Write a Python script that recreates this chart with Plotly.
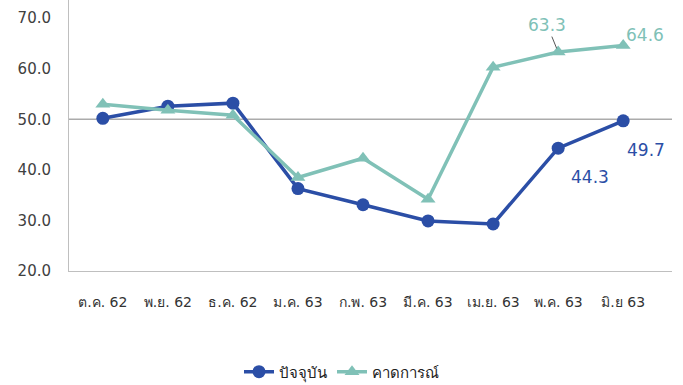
import plotly.graph_objects as go

categories = ["ต.ค. 62", "พ.ย. 62", "ธ.ค. 62", "ม.ค. 63", "ก.พ. 63", "มี.ค. 63", "เม.ย. 63", "พ.ค. 63", "มิ.ย 63"]
current = [50.2, 52.6, 53.2, 36.3, 33.1, 29.9, 29.3, 44.3, 49.7]
forecast = [53.0, 51.8, 50.8, 38.5, 42.3, 34.2, 60.3, 63.3, 64.6]
y_ticks = [20, 30, 40, 50, 60, 70]

BLUE = "#2B4EA6"
TEAL = "#80C1B7"

fig = go.Figure()
fig.add_trace(go.Scatter(x=categories, y=current, name="ปัจจุบัน", mode="lines+markers",
                         line=dict(color=BLUE, width=3.5),
                         marker=dict(symbol="circle", size=13, color=BLUE)))
fig.add_trace(go.Scatter(x=categories, y=forecast, name="คาดการณ์", mode="lines+markers",
                         line=dict(color=TEAL, width=3.5),
                         marker=dict(symbol="triangle-up", size=13, color=TEAL)))

# 50 reference line
fig.add_shape(type="line", xref="paper", yref="y", x0=0, x1=1, y0=50, y1=50,
              line=dict(color="#ABABAB", width=1.5), layer="below")

ann_font = dict(family="DejaVu Sans, Verdana, sans-serif", size=17)
# 63.3 label with a short leader line to its point
fig.add_annotation(x=categories[7], y=forecast[7], text=f"{forecast[7]:.1f}", showarrow=True,
                   arrowhead=0, arrowwidth=1, arrowcolor="#555555", standoff=4,
                   ax=-11, ay=-27, font=dict(color=TEAL, **ann_font))
fig.add_annotation(x=categories[8], y=forecast[8], text=f"{forecast[8]:.1f}", showarrow=False,
                   xshift=22, yshift=11, font=dict(color=TEAL, **ann_font))
fig.add_annotation(x=categories[7], y=current[7], text=f"{current[7]:.1f}", showarrow=False,
                   xshift=32, yshift=-29, font=dict(color=BLUE, **ann_font))
fig.add_annotation(x=categories[8], y=current[8], text=f"{current[8]:.1f}", showarrow=False,
                   xshift=23, yshift=-29, font=dict(color=BLUE, **ann_font))

fig.update_layout(
    width=683, height=385,
    margin=dict(l=69, r=11, t=0, b=114, autoexpand=False),
    paper_bgcolor="white", plot_bgcolor="white",
    font=dict(family="DejaVu Sans, Noto Sans, sans-serif", color="#404040"),
    showlegend=True,
    legend=dict(orientation="h", x=0.5, xanchor="center", xref="container",
                y=0.034, yanchor="middle", yref="container",
                font=dict(size=15, color="#222222"), itemwidth=30, tracegroupgap=0),
    xaxis=dict(range=[-0.52, 8.75], showgrid=False, showline=True, linecolor="#BFBFBF", linewidth=1,
               ticks="outside", ticklen=18, tickcolor="rgba(0,0,0,0)",
               tickfont=dict(size=14, color="#333333"), fixedrange=True),
    yaxis=dict(range=[20, 73.6], tickvals=y_ticks, ticktext=[f"{v:.1f}" for v in y_ticks],
               showgrid=False, showline=True, linecolor="#BFBFBF", linewidth=1,
               ticks="outside", ticklen=14, tickcolor="rgba(0,0,0,0)",
               tickfont=dict(size=15, color="#404040"), zeroline=False),
)

fig.write_html("out.html", config={"displayModeBar": False},
               post_script="document.body.style.margin='0';document.body.style.overflow='hidden';")
